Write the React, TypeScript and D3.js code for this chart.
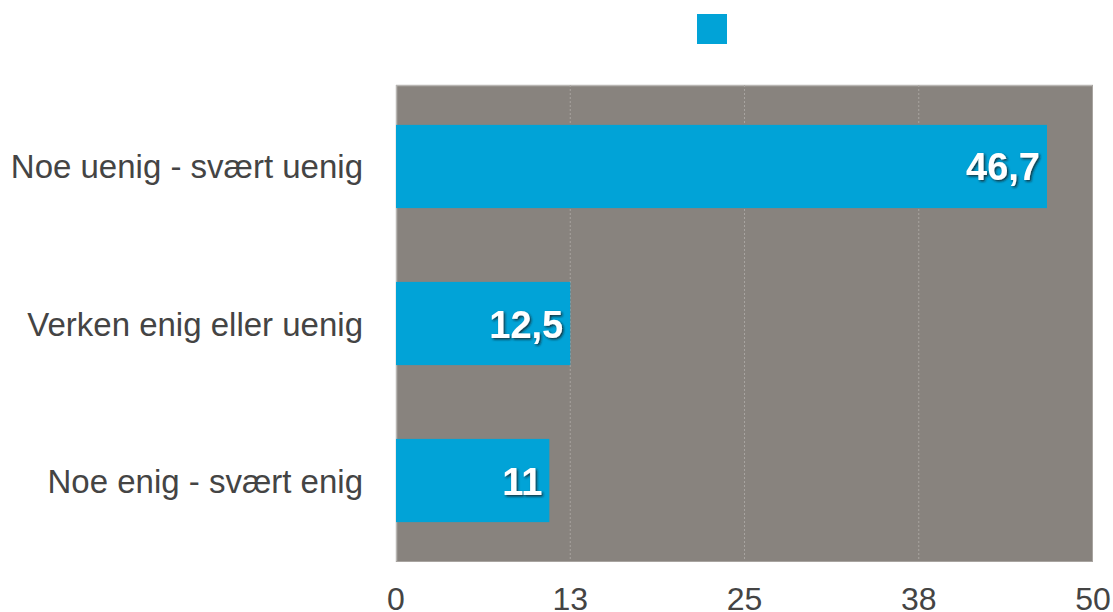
import React from "react";
import * as d3 from "d3";

const categories = ["Noe uenig - svært uenig", "Verken enig eller uenig", "Noe enig - svært enig"];
const values = [46.7, 12.5, 11];
const valueLabels = ["46,7", "12,5", "11"];
const tickValues = [0, 12.5, 25, 37.5, 50];
const tickLabels = ["0", "13", "25", "38", "50"];
const seriesName = "";

const W = 1113;
const H = 612;
const left = 396;
const right = 1093;
const top = 85;
const bottom = 562;
const FONT = "'Liberation Sans', Arial, Helvetica, sans-serif";

export default function App() {
  const x = d3.scaleLinear().domain([0, 50]).range([left, right]);
  const y = d3
    .scaleBand<string>()
    .domain(categories)
    .range([top, bottom])
    .paddingInner(0.47)
    .paddingOuter(0.254);

  return (
    <svg
      width={W}
      height={H}
      style={{ position: "absolute", left: 0, top: 0, background: "#fff" }}
      fontFamily={FONT}
    >
      <defs>
        <filter id="sh" x="-20%" y="-20%" width="140%" height="140%">
          <feDropShadow dx="1.5" dy="1.5" stdDeviation="1" floodColor="#1a1a1a" floodOpacity="0.8" />
        </filter>
      </defs>
      {/* legend */}
      <rect x={697} y={14} width={30} height={30} fill="#01a3d7" />
      <text x={735} y={38} fontSize={26} fill="#444">{seriesName}</text>

      {/* plot background */}
      <rect x={left} y={top} width={right - left} height={bottom - top} fill="#88837e" />
      <line x1={left} x2={right} y1={top + 0.5} y2={top + 0.5} stroke="#b9b6b3" strokeWidth={1.5} />
      <line x1={left + 0.5} x2={left + 0.5} y1={top} y2={bottom} stroke="#b9b6b3" strokeWidth={1.5} />
      <line x1={right - 0.5} x2={right - 0.5} y1={top} y2={bottom} stroke="#a8a4a0" strokeWidth={1} />
      <line x1={left} x2={right} y1={bottom - 0.5} y2={bottom - 0.5} stroke="#a8a4a0" strokeWidth={1} />

      {/* grid */}
      {tickValues.slice(1, -1).map((t) => (
        <line
          key={t}
          x1={x(t)}
          x2={x(t)}
          y1={top}
          y2={bottom}
          stroke="#a8a4a0"
          strokeWidth={1}
          strokeDasharray="2,2"
        />
      ))}

      {/* bars */}
      {categories.map((c, i) => (
        <rect
          key={c}
          x={x(0)}
          y={y(c)}
          width={x(values[i]) - x(0)}
          height={y.bandwidth()}
          fill="#01a3d7"
        />
      ))}

      {/* value labels */}
      {categories.map((c, i) => (
        <text
          key={c}
          x={x(values[i]) - 7}
          y={(y(c) as number) + y.bandwidth() / 2 + 14}
          textAnchor="end"
          fontSize={38}
          fontWeight="bold"
          fill="#fff"
          filter="url(#sh)"
        >
          {valueLabels[i]}
        </text>
      ))}

      {/* category labels */}
      {categories.map((c) => (
        <text
          key={c}
          x={363}
          y={(y(c) as number) + y.bandwidth() / 2 + 12}
          textAnchor="end"
          fontSize={33}
          fill="#444"
        >
          {c}
        </text>
      ))}

      {/* tick labels */}
      {tickValues.map((t, i) => (
        <text key={t} x={x(t)} y={610} textAnchor="middle" fontSize={32} fill="#444">
          {tickLabels[i]}
        </text>
      ))}
    </svg>
  );
}
